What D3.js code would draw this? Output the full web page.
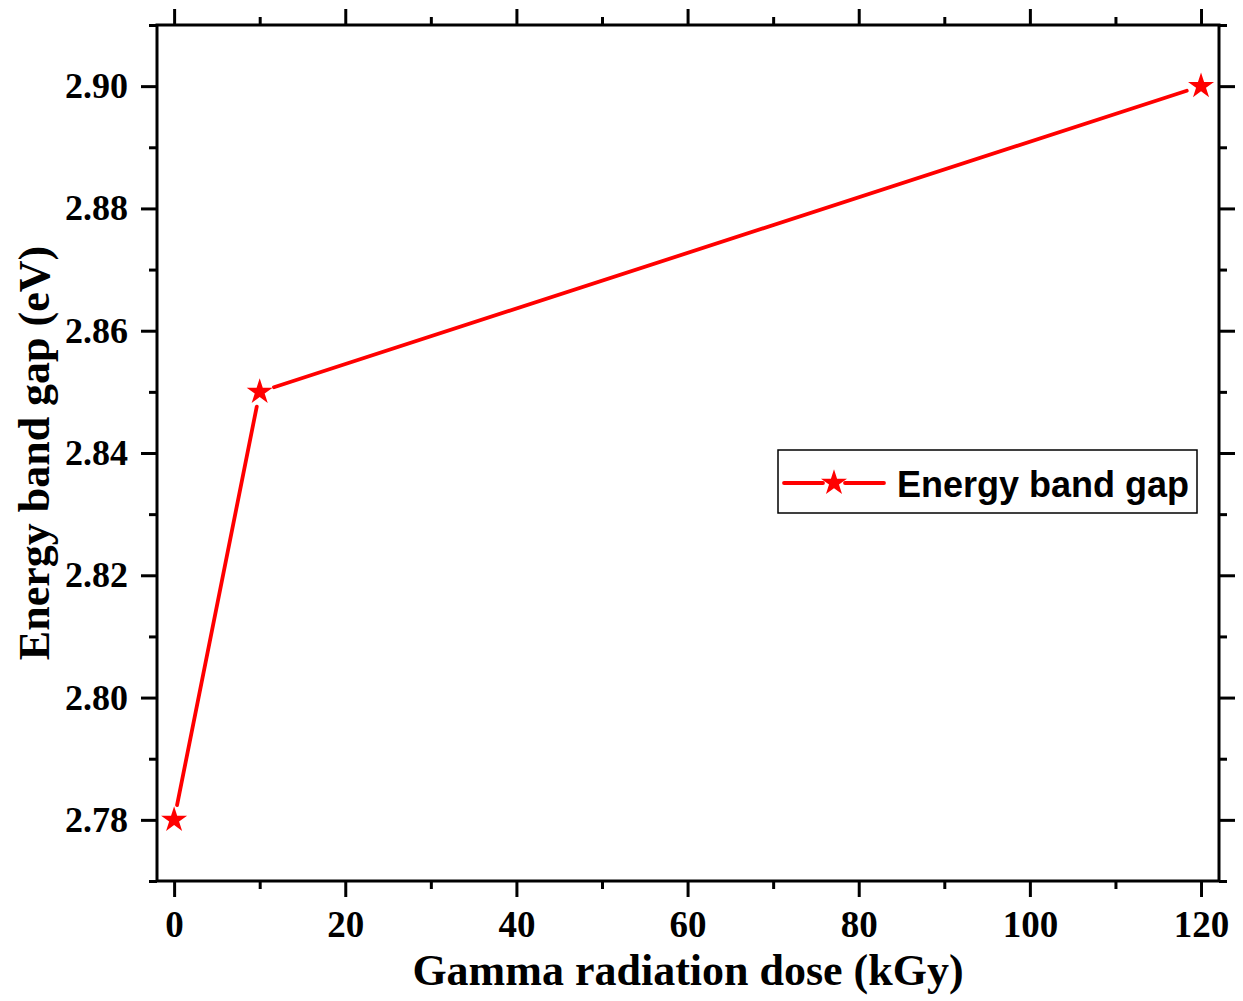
<!DOCTYPE html>
<html lang="en">
<head>
<meta charset="UTF-8">
<title>Energy band gap</title>
<script src="https://d3js.org/d3.v7.min.js"></script>
<style>
  body { margin: 0; background: #fff; }
  svg { display: block; }
</style>
</head>
<body>
<svg id="chart" width="1243" height="1001"></svg>
<script>
// data
const dose = [0, 10, 120];
const bandGap = [2.78, 2.85, 2.90];
const xTicks = [0, 20, 40, 60, 80, 100, 120];
const yTicks = [2.78, 2.80, 2.82, 2.84, 2.86, 2.88, 2.90];
const seriesName = "Energy band gap";

const svg = d3.select("#chart");
const plotL = 157, plotR = 1219, plotT = 25, plotB = 881;

const x = d3.scaleLinear().domain([-2, 122.1]).range([plotL, plotR]);
const y = d3.scaleLinear().domain([2.77, 2.91]).range([plotB, plotT]);

const xMinor = d3.range(0, 121, 10).filter(d => !xTicks.includes(d));
const yMinor = d3.range(2.77, 2.911, 0.01).map(d => +d.toFixed(2)).filter(d => !yTicks.includes(d));

const serif = "'Liberation Serif', 'Times New Roman', serif";

function axisG(axis, tx, ty) {
  const g = svg.append("g").attr("transform", `translate(${tx},${ty})`).call(axis);
  g.select(".domain").remove();
  g.selectAll("line").attr("stroke", "#000").attr("stroke-width", 3);
  return g;
}

// major / minor ticks on all four sides, pointing outward
const bx = axisG(d3.axisBottom(x).tickValues(xTicks).tickSize(16).tickPadding(14).tickFormat(d3.format("d")), 0, plotB);
bx.selectAll("text").attr("font-family", serif).attr("font-weight", "bold").attr("font-size", 37).attr("fill", "#000");
axisG(d3.axisBottom(x).tickValues(xMinor).tickSize(8).tickFormat(""), 0, plotB);
axisG(d3.axisTop(x).tickValues(xTicks).tickSize(16).tickFormat(""), 0, plotT);
axisG(d3.axisTop(x).tickValues(xMinor).tickSize(8).tickFormat(""), 0, plotT);

const ly = axisG(d3.axisLeft(y).tickValues(yTicks).tickSize(16).tickPadding(13).tickFormat(d3.format(".2f")), plotL, 0);
ly.selectAll("text").attr("font-family", serif).attr("font-weight", "bold").attr("font-size", 36).attr("fill", "#000");
axisG(d3.axisLeft(y).tickValues(yMinor).tickSize(8).tickFormat(""), plotL, 0);
axisG(d3.axisRight(y).tickValues(yTicks).tickSize(16).tickFormat(""), plotR, 0);
axisG(d3.axisRight(y).tickValues(yMinor).tickSize(8).tickFormat(""), plotR, 0);

// frame
svg.append("rect")
  .attr("x", plotL).attr("y", plotT)
  .attr("width", plotR - plotL).attr("height", plotB - plotT)
  .attr("fill", "none").attr("stroke", "#000").attr("stroke-width", 3);

// line segments with small gaps around the markers
const pts = dose.map((d, i) => [x(d), y(bandGap[i])]);
const gap = 15;
for (let i = 0; i < pts.length - 1; i++) {
  const [x1, y1] = pts[i], [x2, y2] = pts[i + 1];
  const len = Math.hypot(x2 - x1, y2 - y1);
  const ux = (x2 - x1) / len, uy = (y2 - y1) / len;
  svg.append("line")
    .attr("x1", x1 + ux * gap).attr("y1", y1 + uy * gap)
    .attr("x2", x2 - ux * gap).attr("y2", y2 - uy * gap)
    .attr("stroke", "#ff0000").attr("stroke-width", 3.8).attr("stroke-linecap", "round");
}

const star = d3.symbol().type(d3.symbolStar).size(210);
svg.append("g").selectAll("path")
  .data(pts)
  .join("path")
  .attr("d", star)
  .attr("transform", d => `translate(${d[0]},${d[1]})`)
  .attr("fill", "#ff0000");

// axis titles
svg.append("text")
  .attr("x", (plotL + plotR) / 2).attr("y", 985)
  .attr("text-anchor", "middle")
  .attr("font-family", serif).attr("font-weight", "bold").attr("font-size", 44)
  .text("Gamma radiation dose (kGy)");

svg.append("text")
  .attr("transform", `translate(49,${(plotT + plotB) / 2}) rotate(-90)`)
  .attr("text-anchor", "middle")
  .attr("font-family", serif).attr("font-weight", "bold").attr("font-size", 44)
  .text("Energy band gap (eV)");

// legend
const lg = svg.append("g").attr("transform", "translate(778,450)");
lg.append("rect").attr("width", 419).attr("height", 63)
  .attr("fill", "#fff").attr("stroke", "#000").attr("stroke-width", 1.5);
lg.append("line").attr("x1", 6).attr("x2", 45).attr("y1", 33).attr("y2", 33)
  .attr("stroke", "#ff0000").attr("stroke-width", 3.8).attr("stroke-linecap", "round");
lg.append("line").attr("x1", 67).attr("x2", 106).attr("y1", 33).attr("y2", 33)
  .attr("stroke", "#ff0000").attr("stroke-width", 3.8).attr("stroke-linecap", "round");
lg.append("path").attr("d", star).attr("transform", "translate(56,33)").attr("fill", "#ff0000");
lg.append("text").attr("x", 119).attr("y", 47)
  .attr("font-family", "'Liberation Sans', Arial, sans-serif").attr("font-weight", "bold").attr("font-size", 36)
  .text(seriesName);
</script>
</body>
</html>
